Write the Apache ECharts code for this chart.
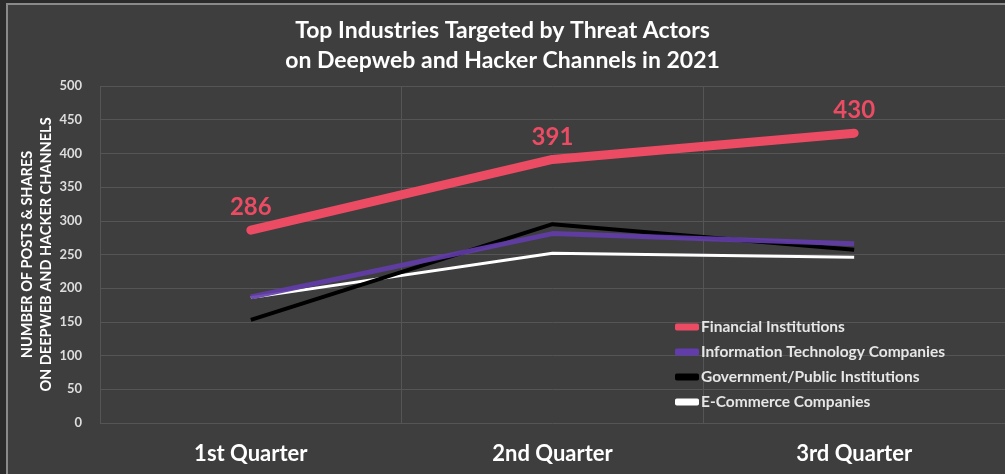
<!DOCTYPE html>
<html>
<head>
<meta charset="utf-8">
<script src="https://cdn.jsdelivr.net/npm/echarts@6/dist/echarts.min.js"></script>
<style>
  html, body { margin: 0; padding: 0; background: #2b2b2b; }
  #chart { width: 1005px; height: 474px; }
</style>
</head>
<body>
<div id="chart"></div>
<script>
const quarters = ["1st Quarter", "2nd Quarter", "3rd Quarter"];
const financial = [286, 391, 430];
const infoTech = [187, 281, 266];
const government = [153, 295, 257];
const eCommerce = [186, 252, 246];
const yTicks = { min: 0, max: 500, interval: 50 };

const textFont = "Lato";

const chart = echarts.init(document.getElementById("chart"));
const option = {
  backgroundColor: "#3e3e3e",
  animation: false,
  graphic: [
    // outer dark frame + light border line
    { type: "rect", left: 0, top: 0, shape: { width: 6, height: 474 }, style: { fill: "#2b2b2b" } },
    { type: "rect", left: 0, top: 0, shape: { width: 1005, height: 3 }, style: { fill: "#2b2b2b" } },
    { type: "rect", left: 6, top: 3, shape: { width: 2, height: 471 }, style: { fill: "#8a8a8a" } },
    { type: "rect", left: 6, top: 3, shape: { width: 999, height: 2 }, style: { fill: "#8a8a8a" } }
  ],
  title: {
    text: "Top Industries Targeted by Threat Actors\non Deepweb and Hacker Channels in 2021",
    left: "center",
    top: 11,
    textStyle: {
      color: "#ffffff",
      fontFamily: textFont,
      fontWeight: "bold",
      fontSize: 23,
      lineHeight: 30
    }
  },
  legend: {
    orient: "vertical",
    left: 670,
    top: 314,
    itemGap: 9,
    itemWidth: 24,
    itemHeight: 7,
    icon: "roundRect",
    textStyle: {
      color: "#e6e6e6",
      fontFamily: textFont,
      fontWeight: "bold",
      fontSize: 15.5,
      padding: [0, 0, 0, -3]
    },
    data: [
      "Financial Institutions",
      "Information Technology Companies",
      "Government/Public Institutions",
      "E-Commerce Companies"
    ]
  },
  grid: {
    left: 100,
    right: 0,
    top: 86,
    bottom: 51
  },
  xAxis: {
    type: "category",
    data: quarters,
    boundaryGap: true,
    axisLine: { show: false },
    axisTick: { show: false },
    axisLabel: {
      color: "#ffffff",
      fontFamily: textFont,
      fontWeight: "bold",
      fontSize: 22,
      margin: 20
    },
    splitLine: {
      show: true,
      lineStyle: { color: "#555555", width: 1 }
    }
  },
  yAxis: {
    type: "value",
    min: yTicks.min,
    max: yTicks.max,
    interval: yTicks.interval,
    name: "NUMBER OF POSTS & SHARES\nON DEEPWEB AND HACKER CHANNELS",
    nameLocation: "middle",
    nameGap: 44,
    nameMoveOverlap: false,
    nameTextStyle: {
      color: "#ffffff",
      fontFamily: textFont,
      fontWeight: "bold",
      fontSize: 14.5,
      lineHeight: 19
    },
    axisLine: { show: false },
    axisTick: { show: false },
    axisLabel: {
      color: "#dddddd",
      fontFamily: textFont,
      fontWeight: "bold",
      fontSize: 13,
      margin: 18
    },
    splitLine: {
      lineStyle: { color: "#555555", width: 1 }
    }
  },
  series: [
    {
      name: "E-Commerce Companies",
      type: "line",
      data: eCommerce,
      symbol: "none",
      z: 2,
      lineStyle: { color: "#ffffff", width: 3 },
      itemStyle: { color: "#ffffff" }
    },
    {
      name: "Government/Public Institutions",
      type: "line",
      data: government,
      symbol: "none",
      z: 3,
      lineStyle: { color: "#000000", width: 4 },
      itemStyle: { color: "#000000" }
    },
    {
      name: "Information Technology Companies",
      type: "line",
      data: infoTech,
      symbol: "none",
      z: 4,
      lineStyle: { color: "#623cab", width: 5, opacity: 0.9 },
      itemStyle: { color: "#623cab" }
    },
    {
      name: "Financial Institutions",
      type: "line",
      data: financial,
      symbol: "circle",
      symbolSize: 1,
      showSymbol: true,
      z: 5,
      lineStyle: { color: "#ec4b64", width: 9, cap: "round" },
      itemStyle: { color: "#ec4b64" },
      label: {
        show: true,
        position: "top",
        distance: 10,
        color: "#ec4b64",
        fontFamily: textFont,
        fontWeight: "bold",
        fontSize: 24
      }
    }
  ]
};
chart.setOption(option);
</script>
</body>
</html>
